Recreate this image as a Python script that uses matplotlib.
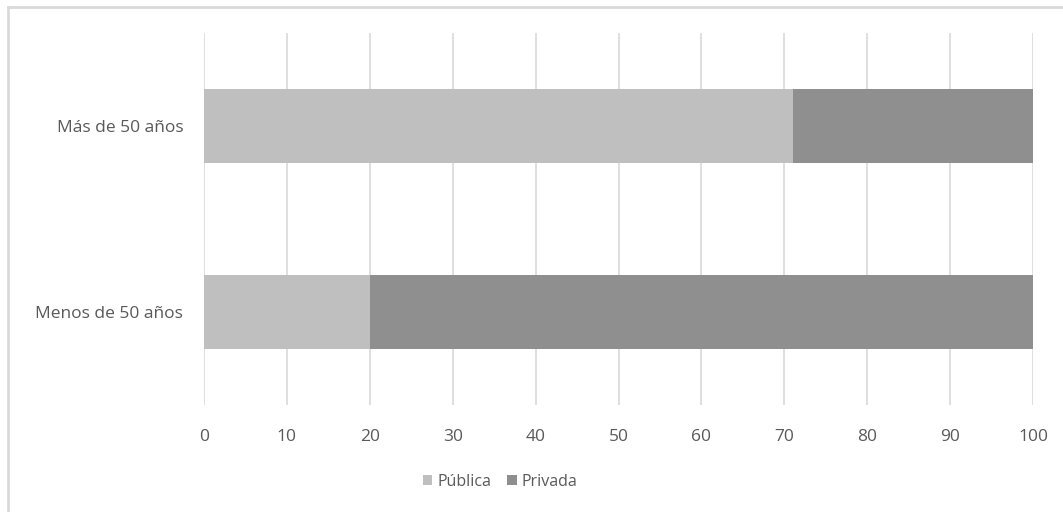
import matplotlib.pyplot as plt
from matplotlib.lines import Line2D

# Data
categories = ["Menos de 50 años", "Más de 50 años"]
publica = [20, 71]
privada = [80, 29]
ticks = [0, 10, 20, 30, 40, 50, 60, 70, 80, 90, 100]

plt.rcParams["font.family"] = ["Open Sans", "DejaVu Sans"]
text_color = "#595959"

fig = plt.figure(figsize=(10.63, 5.12), dpi=100)
ax = fig.add_axes([0.1919, 0.209, 0.9718 - 0.1919, 0.9355 - 0.209])

y = list(range(len(categories)))
ax.barh(y, publica, height=0.4, color="#bfbfbf", label="Pública", zorder=2)
ax.barh(y, privada, left=publica, height=0.4, color="#8f8f8f", label="Privada", zorder=2)

ax.set_xlim(0, 100)
ax.set_ylim(-0.5, 1.5)
ax.set_xticks(ticks)
ax.set_yticks(y)
ax.set_yticklabels(categories)
ax.grid(axis="x", color="#d9d9d9", linewidth=1.2, zorder=0)
ax.tick_params(length=0, colors=text_color, labelsize=12.5)
ax.tick_params(axis="x", pad=17)
ax.tick_params(axis="y", pad=15)
for s in ax.spines.values():
    s.set_visible(False)

fig.legend(loc="center", bbox_to_anchor=(500 / 1063, 1 - 482 / 512), ncol=2,
           frameon=False, fontsize=11.5, labelcolor=text_color,
           handlelength=0.6, handleheight=0.6, handletextpad=0.3, columnspacing=1.0)

# chart frame
fig.add_artist(Line2D([8 / 1063, 1], [1 - 7 / 512] * 2, color="#d9d9d9", lw=2))
fig.add_artist(Line2D([8 / 1063] * 2, [0, 1 - 7 / 512], color="#d9d9d9", lw=2))

fig.savefig("out.png", dpi=100)
